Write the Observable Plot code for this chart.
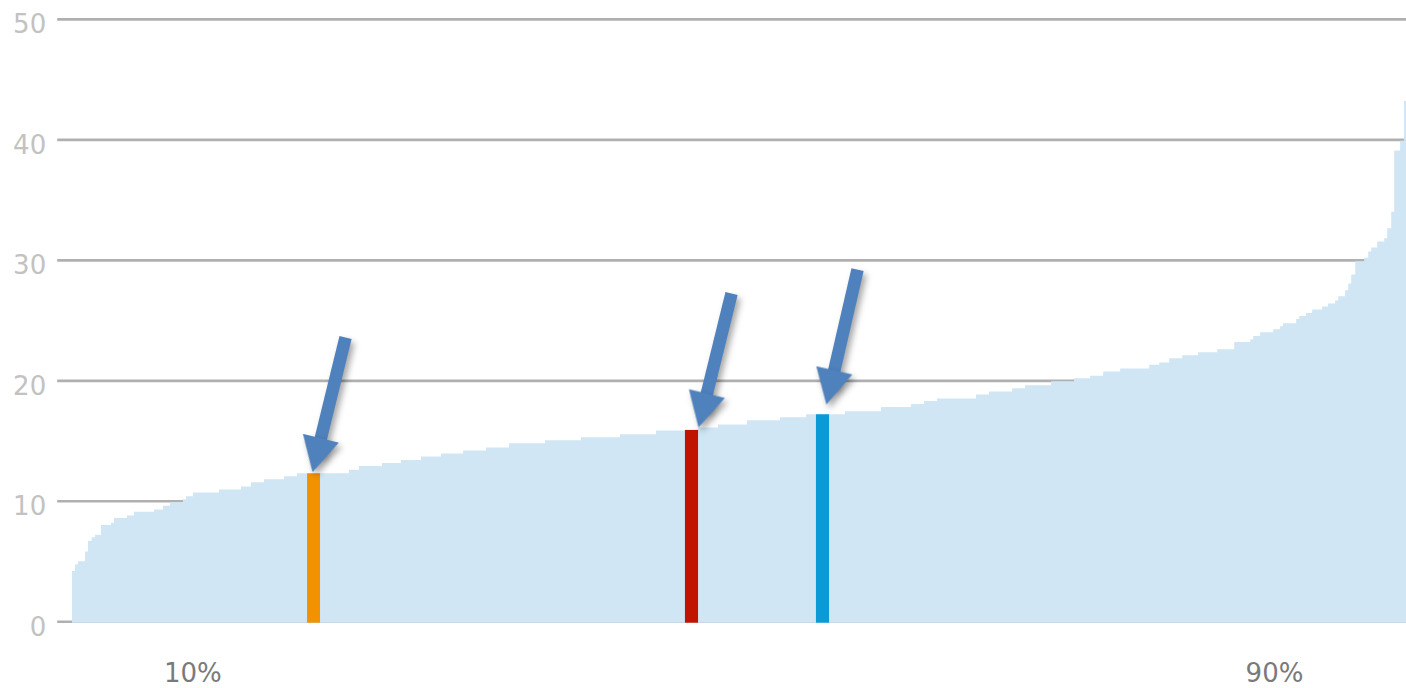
<!DOCTYPE html>
<html>
<head>
<meta charset="utf-8">
<script src="https://cdn.jsdelivr.net/npm/d3@7"></script>
<script src="https://cdn.jsdelivr.net/npm/@observablehq/plot@0.6"></script>
<style>
  html, body { margin: 0; padding: 0; background: #fff; overflow: hidden; }
</style>
</head>
<body>
<div id="chart"></div>
<script>
// ---- data (x = percentile rank, y = value) ----
const stepStart = [1.09, 1.32, 1.54, 2.06, 2.28, 2.55, 2.80, 3.24, 3.98, 4.20, 5.16, 5.68, 7.16, 7.83, 8.34, 9.30, 9.53, 10.04,
  11.97, 13.59, 14.33, 15.30, 16.78, 17.74, 21.58, 22.32, 24.02, 25.43, 26.91, 28.39, 30.01, 31.72, 33.42, 36.08, 38.74,
  41.63, 44.29, 47.40, 48.88, 51.02, 53.46, 55.39, 58.27, 60.93, 63.15, 64.12, 65.08, 67.96, 68.92, 70.63, 71.59, 73.51,
  75.21, 76.40, 77.36, 78.62, 80.77, 81.51, 82.25, 83.21, 84.39, 85.80, 87.06, 88.24, 88.46, 88.98, 89.94, 90.45, 90.67,
  91.64, 91.86, 92.37, 92.82, 93.56, 94.00, 94.52, 94.75, 95.26, 95.49, 95.71, 96.01, 96.67, 96.97, 97.19, 97.63, 98.15,
  98.37, 98.67, 98.89, 99.33, 99.62, 100];
const stepValue = [4.3, 4.85, 5.1, 5.9, 6.8, 7.1, 7.3, 8.1, 8.3, 8.7, 8.9, 9.2, 9.4, 9.7, 10.0, 10.25, 10.5, 10.8,
  11.05, 11.3, 11.65, 11.9, 12.15, 12.4, 12.7, 13.0, 13.25, 13.5, 13.8, 14.05, 14.3, 14.55, 14.9, 15.15, 15.4,
  15.65, 15.95, 16.2, 16.45, 16.8, 17.05, 17.3, 17.55, 17.9, 18.15, 18.4, 18.6, 18.95, 19.2, 19.45, 19.7, 20.05,
  20.3, 20.5, 20.85, 21.1, 21.4, 21.6, 21.95, 22.2, 22.45, 22.7, 23.3, 23.5, 23.8, 24.1, 24.35, 24.6, 24.85,
  25.2, 25.45, 25.7, 26.0, 26.25, 26.5, 26.75, 27.1, 27.6, 28.15, 28.9, 30.0, 30.3, 30.8, 31.15, 31.65, 31.9,
  32.75, 34.1, 39.2, 40.0, 43.3, 43.3];

const highlightName  = ["A", "B", "C"];
const highlightStart = [18.48, 46.43, 56.12];
const highlightEnd   = [19.44, 47.40, 57.09];
const highlightValue = [12.4, 16.0, 17.3];

// arrows: tail -> tip (data space)
const arrowTailX = [21.29, 49.84, 59.16];
const arrowTailY = [23.71, 27.36, 29.35];
const arrowTipX  = [18.85, 47.40, 56.86];
const arrowTipY  = [12.53, 16.24, 18.15];

const yTicks = [0, 10, 20, 30, 40, 50];
const xTicks = [10, 90];
const xTickLabels = ["10%", "90%"];

// ---- styles ----
const highlightColors = ["#f39200", "#c01300", "#0a9bd7"];
const areaColor = "#d0e6f5";
const arrowColor = "#4f81bd";

// ---- build tables ----
const area = stepStart.map((p, i) => ({p, v: stepValue[i]}));
const highlights = highlightName.map((name, i) => ({name, start: highlightStart[i], end: highlightEnd[i], value: highlightValue[i]}));
const arrows = arrowTailX.map((x1, i) => ({x1, y1: arrowTailY[i], x2: arrowTipX[i], y2: arrowTipY[i]}));

const W = 1406, H = 688;
const mL = 57.2, mR = -3.2, mT = 20.3, mB = 65.3;
const xs = d3.scaleLinear([0, 100], [mL, W - mR]);
const ys = d3.scaleLinear([0, 50], [H - mB, mT]);
const angleOf = d => {
  const dx = xs(d.x2) - xs(d.x1), dy = ys(d.y2) - ys(d.y1);
  return Math.atan2(dx, -dy) * 180 / Math.PI;
};

// arrow head symbol: tip at origin, pointing up
const headSymbol = {
  draw(context, size) {
    const w = 18.5, h = 35;
    context.moveTo(0, 0);
    context.lineTo(w, h);
    context.lineTo(-w, h);
    context.closePath();
  }
};

const chart = Plot.plot({
  width: W, height: H,
  marginLeft: mL, marginRight: mR, marginTop: mT, marginBottom: mB,
  x: {domain: [0, 100], axis: null},
  y: {domain: [0, 50], axis: null},
  color: {type: "ordinal", domain: highlightName, range: highlightColors},
  style: {fontFamily: "DejaVu Sans", background: "white"},
  marks: [
    Plot.ruleY(yTicks, {stroke: "#b0b0b0", strokeWidth: 2.6, dy: -1.4}),
    Plot.areaY(area, {x: "p", y: "v", curve: "step-after", fill: areaColor}),
    Plot.rectY(highlights, {x1: "start", x2: "end", y: "value", fill: "name"}),
    Plot.arrow(arrows, {x1: "x1", y1: "y1", x2: "x2", y2: "y2", stroke: arrowColor, strokeWidth: 12.5,
      headLength: 0, insetEnd: 18, strokeLinecap: "butt"}),
    Plot.dot(arrows, {x: "x2", y: "y2", symbol: headSymbol, r: 10, fill: arrowColor, stroke: null, rotate: angleOf}),
    Plot.axisY(yTicks, {tickSize: 0, tickPadding: 11.5, fontSize: 26, color: "#c2c2c2", dy: 4}),
    Plot.axisX(xTicks, {tickSize: 0, tickPadding: 40, fontSize: 26, color: "#7a7a7a",
      tickFormat: d => xTickLabels[xTicks.indexOf(d)]})
  ]
});

d3.select(chart).selectAll('g[aria-label="arrow"], g[aria-label="dot"]')
  .style("filter", "drop-shadow(3px 4px 3px rgba(0,0,0,0.35))");

document.getElementById("chart").appendChild(chart);
</script>
</body>
</html>
